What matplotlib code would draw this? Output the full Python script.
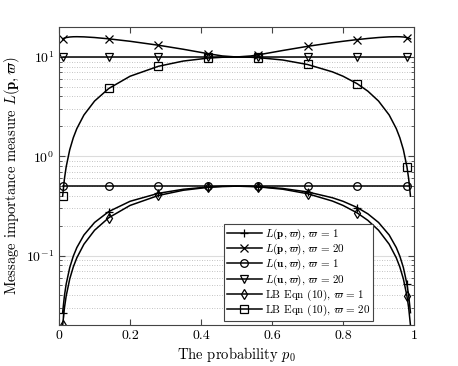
import matplotlib
matplotlib.use("Agg")
import matplotlib.pyplot as plt

plt.rcParams['font.family'] = 'serif'
plt.rcParams['font.serif'] = ['cmr10']
plt.rcParams['mathtext.fontset'] = 'cm'
plt.rcParams['axes.formatter.use_mathtext'] = True

# probability p0 (sample points)
p0 = [0.01, 0.015, 0.02, 0.03, 0.04, 0.05, 0.07, 0.10, 0.14, 0.20, 0.28,
      0.35, 0.42, 0.46, 0.50, 0.54, 0.56, 0.63, 0.70, 0.77, 0.80, 0.84,
      0.87, 0.90, 0.93, 0.95, 0.96, 0.97, 0.98, 0.985, 0.99]

# L(p, w), w = 1
Lp1 = [0.0266, 0.0393, 0.0517, 0.0757, 0.0986, 0.1204, 0.1612, 0.2156,
       0.2777, 0.3522, 0.4239, 0.4655, 0.4904, 0.4976, 0.5000, 0.4976,
       0.4946, 0.4742, 0.4377, 0.3824, 0.3522, 0.3048, 0.2632, 0.2156,
       0.1612, 0.1204, 0.0986, 0.0757, 0.0517, 0.0393, 0.0266]
# L(p, w), w = 20
Lp20 = [15.20, 15.50, 15.69, 15.89, 15.98, 16.00, 15.94, 15.70, 15.23,
        14.39, 13.13, 11.96, 10.79, 10.24, 10.00, 10.24, 10.49, 11.62,
        12.80, 13.93, 14.39, 14.97, 15.36, 15.70, 15.94, 16.00, 15.98,
        15.89, 15.69, 15.50, 15.20]
# L(u, w), w = 1 and w = 20
Lu1 = [0.5] * len(p0)
Lu20 = [10.0] * len(p0)
# LB Eqn (10), w = 1
LB1 = [0.0198, 0.0296, 0.0392, 0.0582, 0.0768, 0.0950, 0.1302, 0.1800,
       0.2408, 0.3200, 0.4032, 0.4550, 0.4872, 0.4968, 0.5000, 0.4968,
       0.4928, 0.4662, 0.4200, 0.3542, 0.3200, 0.2688, 0.2262, 0.1800,
       0.1302, 0.0950, 0.0768, 0.0582, 0.0392, 0.0296, 0.0198]
# LB Eqn (10), w = 20
LB20 = [0.396, 0.591, 0.784, 1.164, 1.536, 1.900, 2.604, 3.600, 4.816,
        6.400, 8.064, 9.100, 9.744, 9.936, 10.00, 9.936, 9.856, 9.324,
        8.400, 7.084, 6.400, 5.376, 4.524, 3.600, 2.604, 1.900, 1.536,
        1.164, 0.784, 0.591, 0.396]

# points that carry a marker (p0 = 0.01, 0.14, 0.28, ..., 0.98)
marks = [0, 8, 10, 12, 16, 18, 21, 28]

series = [
    (Lp1, '+', r'$L(\mathbf{p},\varpi),\,\varpi\,=\,1$'),
    (Lp20, 'x', r'$L(\mathbf{p},\varpi),\,\varpi\,=\,20$'),
    (Lu1, 'o', r'$L(\mathbf{u},\varpi),\,\varpi\,=\,1$'),
    (Lu20, 'v', r'$L(\mathbf{u},\varpi),\,\varpi\,=\,20$'),
    (LB1, 'd', r'LB Eqn (10), $\varpi\,=\,1$'),
    (LB20, 's', r'LB Eqn (10), $\varpi\,=\,20$'),
]

fig = plt.figure(figsize=(4.58, 3.66), dpi=100)
ax = fig.add_axes([0.129, 0.112, 0.775, 0.814])

for y, m, lab in series:
    ax.plot(p0, y, color='black', lw=1.1, marker=m, markevery=marks,
            markersize=5.5, mfc='none', mec='black', mew=0.9, label=lab)

ax.set_yscale('log')
ax.set_xlim(0, 1)
ax.set_ylim(0.02, 20)
ax.set_xticks([0, 0.2, 0.4, 0.6, 0.8, 1])
ax.set_xticklabels(['0', '0.2', '0.4', '0.6', '0.8', '1'])

ax.yaxis.grid(True, which='major', color='#dcdcdc', lw=0.8, ls='-')
ax.yaxis.grid(True, which='minor', color='#b0b0b0', lw=0.6, ls=(0, (1, 2)))
ax.set_axisbelow(True)

ax.tick_params(which='both', direction='in', top=True, right=True,
               labelsize=10, color='#444444')
ax.tick_params(which='major', length=4)
ax.tick_params(which='minor', length=2)
for s in ax.spines.values():
    s.set_color('#444444')
    s.set_linewidth(0.8)

ax.set_xlabel(r'The probability $p_0$', fontsize=10.5, labelpad=2)
ax.set_ylabel(r'Message importance measure $L(\mathbf{p},\varpi)$',
              fontsize=10.5, labelpad=3)

leg = ax.legend(loc='lower right', bbox_to_anchor=(0.885, 0.015),
                fontsize=8, fancybox=False, framealpha=1,
                edgecolor='#444444', handlelength=3.2, borderaxespad=0,
                labelspacing=0.0, handletextpad=0.3, borderpad=0.2)
leg.get_frame().set_linewidth(0.8)

fig.savefig('out.png', dpi=100)
